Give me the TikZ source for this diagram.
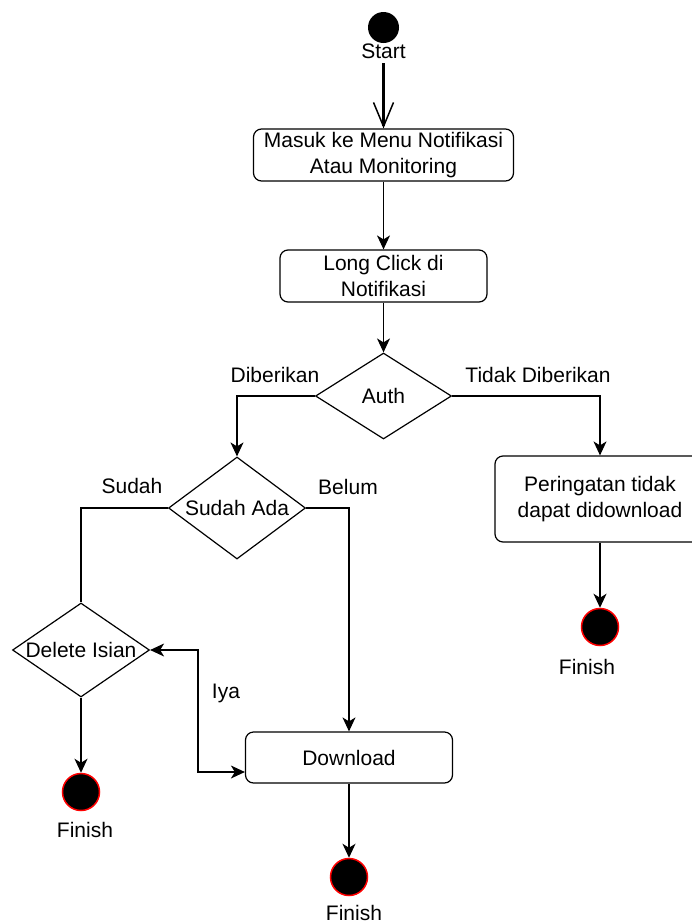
\documentclass[tikz,border=0pt]{standalone}
\usepackage{fontspec}
\setmainfont{Liberation Sans}
\usetikzlibrary{shapes.geometric,arrows.meta}

\def\boxh{52pt}

\begin{document}
\begin{tikzpicture}[x=1pt, y=-1pt, line width=1.2pt, font=\fontsize{21}{26}\selectfont]
        \tikzstyle{edge}=[-{Stealth[length=14pt,width=13pt,inset=4pt]}]
        \tikzstyle{both}=[{Stealth[length=14pt,width=13pt,inset=4pt]}-{Stealth[length=14pt,width=13pt,inset=4pt]}]
        \tikzstyle{action}=[rectangle, rounded corners=8pt, draw, fill=white, align=center, minimum height=\boxh, inner sep=0pt]
        \tikzstyle{decision}=[diamond, draw, fill=white, inner sep=0pt]
        \tikzstyle{initial}=[circle, fill=black, minimum size=31pt, inner sep=0pt]
        \tikzstyle{final}=[circle, fill=black, draw=red, line width=1.5pt, minimum size=37pt, inner sep=0pt]
        \tikzstyle{annot}=[inner sep=0pt]

        \clip (0,0) rectangle (692,924);

        \node[initial] (start) at (383.5,27.5) {};
        \node[annot] (startlbl) at (383.5,51) {Start};

        \node[action, minimum width=260pt] (box1) at (383.5,155) {Masuk ke Menu Notifikasi\\Atau Monitoring};
        \node[action, minimum width=207pt] (box2) at (383.5,276) {Long Click di\\Notifikasi};

        \node[decision, minimum width=136pt, minimum height=86pt, label=center:Auth] (auth) at (383.5,396) {};
        \node[decision, minimum width=137pt, minimum height=102pt, label=center:Sudah Ada] (sud) at (237,508) {};
        \node[decision, minimum width=137pt, minimum height=94pt, label=center:Delete Isian] (del) at (81,650) {};

        \node[action, minimum width=210pt, minimum height=86pt] (per) at (600,499) {Peringatan tidak\\dapat didownload};
        \node[action, minimum width=207pt, minimum height=51pt] (dl) at (349,757.5) {Download};

        \node[final] (fin1) at (81,792) {};
        \node[final] (fin2) at (349,877) {};
        \node[final] (fin3) at (600,627) {};
        \node[annot] (fin1lbl) at (85,830) {Finish};
        \node[annot] (fin2lbl) at (354,913) {Finish};
        \node[annot] (fin3lbl) at (587,667) {Finish};

        \node[annot] (lblDiberikan) at (275,375) {Diberikan};
        \node[annot] (lblTidak) at (538,375) {Tidak Diberikan};
        \node[annot] (lblSudah) at (132,486) {Sudah};
        \node[annot] (lblBelum) at (348,487) {Belum};
        \node[annot] (lblIya) at (226,693) {Iya};

        \coordinate (iyaturn) at (198,650);

        \draw[line width=2.5pt, shorten <=4pt, -{Straight Barb[length=24pt,width=20pt,line width=1.5pt]}] (startlbl.south) -- (box1.north);

        \path[edge]
            (box1) edge (box2)
            (box2) edge (auth)
            (del) edge (fin1)
            (dl) edge (fin2)
            (per) edge (fin3)
        ;

        \draw[edge] (auth.west) -| (sud.north);
        \draw[edge] (auth.east) -| (per.north);
        \draw (sud.west) -| (del.north);
        \draw[edge] (sud.east) -| (dl.north);
        \draw[both] (del.east) -- (iyaturn) |- ([yshift=-14.5pt]dl.west);
\end{tikzpicture}
\end{document}
